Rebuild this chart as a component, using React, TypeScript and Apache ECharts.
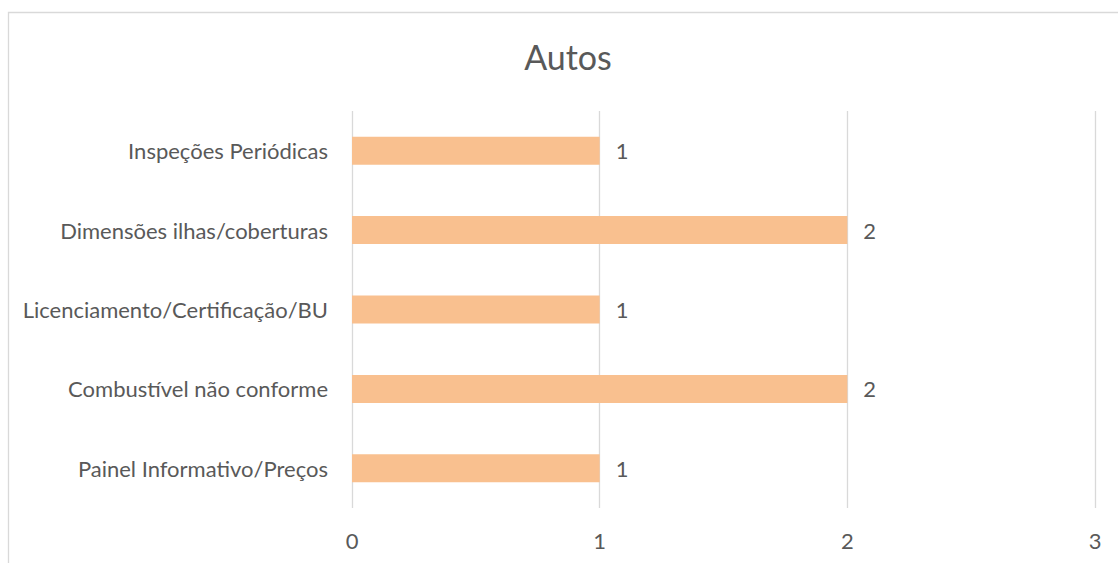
import React, { useEffect, useRef } from "react";
import * as echarts from "echarts";

const categories = [
  "Inspeções Periódicas",
  "Dimensões ilhas/coberturas",
  "Licenciamento/Certificação/BU",
  "Combustível não conforme",
  "Painel Informativo/Preços",
];
const values = [1, 2, 1, 2, 1];
const xTicks = [0, 1, 2, 3];
const titleText = "Autos";

const FONT = "Lato, 'Open Sans', sans-serif";
const TEXT = "#595959";
const GRID = "#d9d9d9";
const BAR = "#F9C08F";

export default function App() {
  const ref = useRef<HTMLDivElement>(null);
  useEffect(() => {
    if (!ref.current) return;
    const chart = echarts.init(ref.current, undefined, { renderer: "svg" });
    chart.setOption({
      animation: false,
      backgroundColor: "#ffffff",
      textStyle: { fontFamily: FONT },
      title: {
        text: titleText,
        left: 563,
        textAlign: "center",
        top: 34,
        textStyle: { fontFamily: FONT, fontSize: 34, fontWeight: "normal", color: TEXT },
      },
      graphic: [
        {
          type: "rect",
          shape: { x: 8.5, y: 12.5, width: 1200, height: 600 },
          style: { fill: "none", stroke: GRID, lineWidth: 1.3 },
          silent: true,
        },
      ],
      grid: { left: 352, right: 23, top: 111, bottom: 55, containLabel: false },
      xAxis: {
        type: "value",
        min: xTicks[0],
        max: xTicks[xTicks.length - 1],
        interval: 1,
        axisLine: { show: false },
        axisTick: { show: false },
        axisLabel: { color: TEXT, fontSize: 22, fontFamily: FONT, margin: 21 },
        splitLine: { show: true, lineStyle: { color: GRID, width: 1.3 } },
      },
      yAxis: {
        type: "category",
        data: categories,
        inverse: true,
        axisLine: { show: false },
        axisTick: { show: false },
        axisLabel: { color: TEXT, fontSize: 22, fontFamily: FONT, margin: 24 },
      },
      series: [
        {
          type: "bar",
          data: values,
          barWidth: 28,
          itemStyle: { color: BAR },
          label: {
            show: true,
            position: "right",
            distance: 16,
            color: TEXT,
            fontSize: 22,
            fontFamily: FONT,
          },
        },
      ],
    });
    return () => chart.dispose();
  }, []);
  return (
    <div
      ref={ref}
      style={{ position: "fixed", left: 0, top: 0, width: 1118, height: 563 }}
    />
  );
}
